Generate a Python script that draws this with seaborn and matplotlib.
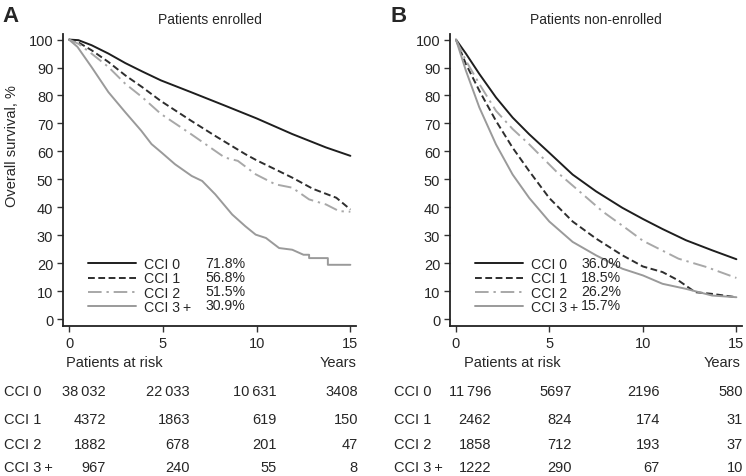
import numpy as np
import pandas as pd
import seaborn as sns
import matplotlib.pyplot as plt

# survival curves, panel A (patients enrolled)
years_a_cci0 = [0, 0.5, 1.2, 2.1, 3.0, 3.9, 4.9, 6.5, 8.3, 10.0, 11.9, 13.7, 15.0]
surv_a_cci0 = [100, 99.8, 98.0, 95.0, 91.6, 88.6, 85.4, 81.2, 76.4, 71.8, 66.2, 61.4, 58.4]
years_a_cci1 = [0, 0.5, 1.2, 2.1, 3.0, 3.9, 4.9, 6.5, 7.8, 9.4, 10.0, 10.8, 11.9, 13.0, 14.25, 15.0]
surv_a_cci1 = [100, 99.0, 96.2, 92.0, 87.2, 83.0, 78.0, 71.0, 65.5, 59.0, 56.8, 54.2, 50.6, 46.6, 43.4, 39.2]
years_a_cci2 = [0, 0.5, 1.2, 2.1, 3.0, 3.9, 4.9, 6.5, 8.3, 9.0, 9.95, 11.0, 11.9, 12.8, 13.7, 14.4, 15.0]
surv_a_cci2 = [100, 98.5, 95.0, 90.2, 84.2, 79.4, 73.4, 66.2, 57.8, 56.6, 51.8, 48.2, 47.0, 42.8, 41.0, 38.6, 38.4]
years_a_cci3 = [0, 0.45, 1.2, 2.1, 3.0, 3.85, 4.4, 4.93, 5.65, 6.54, 7.1, 7.8, 8.7, 9.4, 9.95,
                10.5, 11.2, 11.9, 12.5, 12.8, 12.8, 13.8, 13.8, 15.0]
surv_a_cci3 = [100, 97.4, 90.2, 81.2, 74.0, 67.4, 62.6, 59.6, 55.4, 51.2, 49.4, 44.6, 37.4, 33.2, 30.2,
               29.0, 25.4, 24.8, 23.0, 23.0, 21.8, 21.8, 19.4, 19.4]

# survival curves, panel B (patients non-enrolled)
years_b_cci0 = [0, 0.53, 1.25, 2.14, 3.03, 3.92, 4.99, 6.24, 7.49, 8.9, 10.0, 11.05, 12.3, 13.7, 15.0]
surv_b_cci0 = [100, 95.0, 87.7, 79.3, 72.1, 66.1, 59.5, 51.7, 45.7, 39.8, 35.8, 32.2, 28.2, 24.6, 21.4]
years_b_cci1 = [0, 0.53, 1.25, 2.14, 3.03, 3.92, 4.99, 6.24, 7.49, 8.9, 10.0, 11.05, 11.9, 12.8, 13.7, 15.0]
surv_b_cci1 = [100, 91.3, 81.7, 70.9, 61.3, 52.9, 43.3, 34.9, 28.8, 22.8, 18.8, 16.8, 13.8, 9.6, 9.0, 7.8]
years_b_cci2 = [0, 0.53, 1.25, 2.14, 3.03, 3.92, 5.35, 6.6, 7.84, 9.09, 10.0, 11.9, 13.4, 15.0]
surv_b_cci2 = [100, 92.5, 84.1, 74.5, 68.0, 62.5, 52.9, 45.7, 38.5, 32.5, 28.0, 21.6, 18.6, 14.7]
years_b_cci3 = [0, 0.53, 1.25, 2.14, 3.03, 3.92, 4.99, 6.24, 7.49, 8.9, 10.0, 11.05, 12.3, 13.7, 15.0]
surv_b_cci3 = [100, 88.9, 75.7, 62.5, 51.7, 43.3, 34.9, 27.6, 22.8, 18.0, 15.6, 12.6, 10.8, 8.4, 7.8]

groups = ["CCI 0", "CCI 1", "CCI 2", "CCI 3\u2009+"]
pct_a = ["71.8%", "56.8%", "51.5%", "30.9%"]
pct_b = ["36.0%", "18.5%", "26.2%", "15.7%"]

# numbers at risk at 0, 5, 10, 15 years
risk_a = [[38032, 22033, 10631, 3408], [4372, 1863, 619, 150], [1882, 678, 201, 47], [967, 240, 55, 8]]
risk_b = [[11796, 5697, 2196, 580], [2462, 824, 174, 31], [1858, 712, 193, 37], [1222, 290, 67, 10]]

sns.set_style("ticks", {"axes.spines.right": False, "axes.spines.top": False})
plt.rcParams['font.family'] = ['Liberation Sans', 'DejaVu Sans']
plt.rcParams['font.size'] = 10

palette = dict(zip(groups, ["#1e1e1e", "#2e2e2e", "#a8a8a8", "#9a9a9a"]))
dashes = dict(zip(groups, ["", (3.5, 1.8), (7, 2.5, 1.2, 2.5), ""]))

def to_frame(years, survs):
    parts = []
    for g, t, s in zip(groups, years, survs):
        parts.append(pd.DataFrame({"years": t, "surv": s, "group": g}))
    return pd.concat(parts, ignore_index=True)

def fmt(v):
    # thin-space thousands separator only on five-digit numbers
    return f"{v:,}".replace(",", "\u2009") if v >= 10000 else str(v)

df_a = to_frame([years_a_cci0, years_a_cci1, years_a_cci2, years_a_cci3],
                [surv_a_cci0, surv_a_cci1, surv_a_cci2, surv_a_cci3])
df_b = to_frame([years_b_cci0, years_b_cci1, years_b_cci2, years_b_cci3],
                [surv_b_cci0, surv_b_cci1, surv_b_cci2, surv_b_cci3])

fig = plt.figure(figsize=(7.46, 4.77), dpi=100)
W, H = 746, 477

def px(x, y):
    return x / W, 1 - y / H

ax_a = fig.add_axes([63 / W, 1 - 327 / H, 293 / W, 292 / H])
ax_b = fig.add_axes([450 / W, 1 - 327 / H, 292 / W, 292 / H])

for ax, df, pcts, pct_x, title in [(ax_a, df_a, pct_a, 0.485, "Patients enrolled"),
                                    (ax_b, df_b, pct_b, 0.449, "Patients non-enrolled")]:
    sns.lineplot(ax=ax, data=df, x="years", y="surv", hue="group", style="group",
                 hue_order=groups, style_order=groups, palette=palette, dashes=dashes,
                 estimator=None, sort=False, linewidth=1.4, legend=False)
    ax.set(xlim=(-0.32, 15.3), ylim=(-2.5, 102), xlabel="", ylabel="")
    ax.set_xticks([0, 5, 10, 15])
    ax.set_yticks(range(0, 101, 10))
    ax.tick_params(direction="out", length=4, width=1, color="#333333", labelsize=10.5, pad=3)
    for sp in ["left", "bottom"]:
        ax.spines[sp].set_linewidth(1.3)
        ax.spines[sp].set_color("#222222")
    ax.set_title(title, fontsize=10, pad=8)
    ax.legend(handles=ax.lines[:4], labels=groups, loc="lower left", bbox_to_anchor=(0.085, 0.04),
              frameon=False, handlelength=3.4, handletextpad=0.55, labelspacing=0.03,
              borderpad=0, borderaxespad=0, fontsize=10.2)
    for yv, p in zip([20, 15, 10, 5], pcts):
        ax.text(pct_x, yv, p, transform=ax.get_yaxis_transform(), va="center", ha="left", fontsize=10.2)

ax_a.set_ylabel("Overall survival, %", fontsize=10.5)
ax_a.yaxis.set_label_coords(-0.15, 0.62)

fig.text(*px(2, 16), "A", fontsize=16, fontweight="bold", va="center", ha="left")
fig.text(*px(391, 16), "B", fontsize=16, fontweight="bold", va="center", ha="left")

# risk table
for left, right_edges, risk in [(0, [106, 190, 277, 358], risk_a), (373, [491, 572, 660, 743], risk_b)]:
    fig.text(*px(66 if left == 0 else 464, 363), "Patients at risk", fontsize=10.5, va="center", ha="left")
    fig.text(*px(356 if left == 0 else 740, 363), "Years", fontsize=10.5, va="center", ha="right")
    for row_y, g, vals in zip([392, 420, 445, 468], groups, risk):
        fig.text(*px(4 if left == 0 else 394, row_y), g, fontsize=10.5, va="center", ha="left")
        for xr, v in zip(right_edges, vals):
            fig.text(*px(xr, row_y), fmt(v), fontsize=10.5, va="center", ha="right")

fig.savefig("out.png", dpi=100)
